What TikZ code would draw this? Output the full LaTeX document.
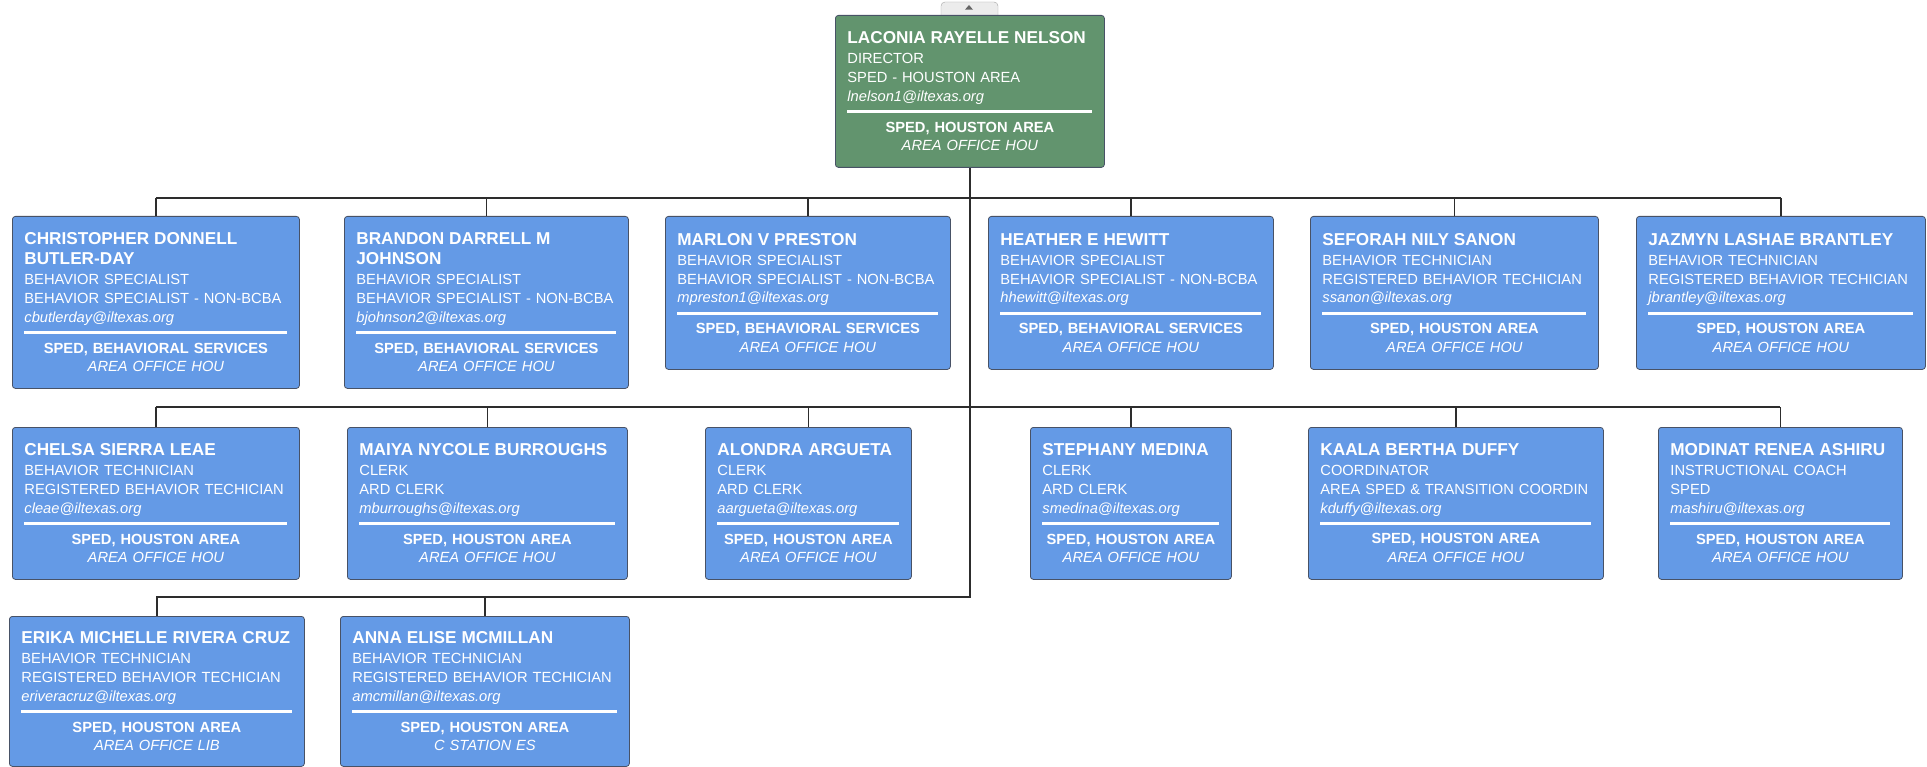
\documentclass[tikz,border=0pt]{standalone}
\usepackage{fontspec}
\setmainfont{Liberation Sans}
\usepackage{tikz}
\usetikzlibrary{positioning}
\usepackage{xcolor}
\definecolor{cardblue}{RGB}{100,154,230}
\definecolor{headgreen}{RGB}{98,148,110}
\definecolor{cardedge}{RGB}{72,82,102}
\definecolor{linkgray}{RGB}{45,45,45}
\definecolor{tabgray}{RGB}{236,236,236}

\newcommand{\namefont}{\fontsize{17.2}{20}\selectfont\bfseries}
\newcommand{\cardfont}{\fontsize{14.7}{18.7}\selectfont}
% name, title, position, mail, department, office
\newcommand{\cardtext}[6]{%
  {\namefont #1}\\[1.3pt]%
  \mbox{#2}\\\mbox{#3}\\\mbox{\itshape #4}\\[-6.7pt]%
  \rule{\linewidth}{3pt}\\%
  \makebox[\linewidth]{\bfseries #5}\\%
  \makebox[\linewidth]{\itshape #6}}

\begin{document}
\begin{tikzpicture}[x=1pt, y=-1pt,
  card/.style={draw=cardedge, fill=cardblue, line width=0.8pt, rounded corners=3pt,
    anchor=north west, align=left, inner xsep=12pt, inner ysep=0pt, text=white, font=\cardfont},
  headcard/.style={card, fill=headgreen},
  link/.style={draw=linkgray, line width=1.6pt}
]
\fill[white] (0,0) rectangle (1927,767);
\useasboundingbox (0,0) rectangle (1927,767);

% collapse tab
\draw[draw=black!35, fill=tabgray, rounded corners=4pt] (941,17) -- (941,2) -- (998,2) -- (998,17);
\fill[black!60] (965,9.7) -- (973,9.7) -- (969,5) -- cycle;

% head
\node[headcard, text width=245pt, minimum height=152pt] (top) at (835,15)
  {\cardtext{LACONIA RAYELLE NELSON}{DIRECTOR}{SPED - HOUSTON AREA}{lnelson1@iltexas.org}{SPED, HOUSTON AREA}{AREA OFFICE HOU}};

% first row
\node[card, text width=263pt, minimum height=172pt] (c1) at (12,216)
  {\cardtext{CHRISTOPHER DONNELL\\[1.3pt]BUTLER-DAY}{BEHAVIOR SPECIALIST}{BEHAVIOR SPECIALIST - NON-BCBA}{cbutlerday@iltexas.org}{SPED, BEHAVIORAL SERVICES}{AREA OFFICE HOU}};
\node[card, text width=260pt, minimum height=172pt] (c2) at (344,216)
  {\cardtext{BRANDON DARRELL M\\[1.3pt]JOHNSON}{BEHAVIOR SPECIALIST}{BEHAVIOR SPECIALIST - NON-BCBA}{bjohnson2@iltexas.org}{SPED, BEHAVIORAL SERVICES}{AREA OFFICE HOU}};
\node[card, text width=261pt, minimum height=153pt] (c3) at (665,216)
  {\cardtext{MARLON V PRESTON}{BEHAVIOR SPECIALIST}{BEHAVIOR SPECIALIST - NON-BCBA}{mpreston1@iltexas.org}{SPED, BEHAVIORAL SERVICES}{AREA OFFICE HOU}};
\node[card, text width=261pt, minimum height=153pt] (c4) at (988,216)
  {\cardtext{HEATHER E HEWITT}{BEHAVIOR SPECIALIST}{BEHAVIOR SPECIALIST - NON-BCBA}{hhewitt@iltexas.org}{SPED, BEHAVIORAL SERVICES}{AREA OFFICE HOU}};
\node[card, text width=264pt, minimum height=153pt] (c5) at (1310,216)
  {\cardtext{SEFORAH NILY SANON}{BEHAVIOR TECHNICIAN}{REGISTERED BEHAVIOR TECHICIAN}{ssanon@iltexas.org}{SPED, HOUSTON AREA}{AREA OFFICE HOU}};
\node[card, text width=265pt, minimum height=153pt] (c6) at (1636,216)
  {\cardtext{JAZMYN LASHAE BRANTLEY}{BEHAVIOR TECHNICIAN}{REGISTERED BEHAVIOR TECHICIAN}{jbrantley@iltexas.org}{SPED, HOUSTON AREA}{AREA OFFICE HOU}};

% second row
\node[card, text width=263pt, minimum height=152pt] (d1) at (12,427)
  {\cardtext{CHELSA SIERRA LEAE}{BEHAVIOR TECHNICIAN}{REGISTERED BEHAVIOR TECHICIAN}{cleae@iltexas.org}{SPED, HOUSTON AREA}{AREA OFFICE HOU}};
\node[card, text width=256pt, minimum height=152pt] (d2) at (347,427)
  {\cardtext{MAIYA NYCOLE BURROUGHS}{CLERK}{ARD CLERK}{mburroughs@iltexas.org}{SPED, HOUSTON AREA}{AREA OFFICE HOU}};
\node[card, text width=182pt, minimum height=152pt] (d3) at (705,427)
  {\cardtext{ALONDRA ARGUETA}{CLERK}{ARD CLERK}{aargueta@iltexas.org}{SPED, HOUSTON AREA}{AREA OFFICE HOU}};
\node[card, text width=177pt, minimum height=152pt] (d4) at (1030,427)
  {\cardtext{STEPHANY MEDINA}{CLERK}{ARD CLERK}{smedina@iltexas.org}{SPED, HOUSTON AREA}{AREA OFFICE HOU}};
\node[card, text width=271pt, minimum height=152pt] (d5) at (1308,427)
  {\cardtext{KAALA BERTHA DUFFY}{COORDINATOR}{AREA SPED \& TRANSITION COORDIN}{kduffy@iltexas.org}{SPED, HOUSTON AREA}{AREA OFFICE HOU}};
\node[card, text width=220pt, minimum height=152pt] (d6) at (1658,427)
  {\cardtext{MODINAT RENEA ASHIRU}{INSTRUCTIONAL COACH}{SPED}{mashiru@iltexas.org}{SPED, HOUSTON AREA}{AREA OFFICE HOU}};

% third row
\node[card, text width=271pt, minimum height=150pt] (e1) at (9,616)
  {\cardtext{ERIKA MICHELLE RIVERA CRUZ}{BEHAVIOR TECHNICIAN}{REGISTERED BEHAVIOR TECHICIAN}{eriveracruz@iltexas.org}{SPED, HOUSTON AREA}{AREA OFFICE LIB}};
\node[card, text width=265pt, minimum height=150pt] (e2) at (340,616)
  {\cardtext{ANNA ELISE MCMILLAN}{BEHAVIOR TECHNICIAN}{REGISTERED BEHAVIOR TECHICIAN}{amcmillan@iltexas.org}{SPED, HOUSTON AREA}{C STATION ES}};

% reporting lines
\coordinate (bus1) at (0,198);
\coordinate (bus2) at (0,407);
\coordinate (bus3) at (0,597);
\draw[link] (top.south) -- (top.south |- bus3) -- (e1.north |- bus3) -- (e1.north);
\draw[link] (e2.north) -- (e2.north |- bus3);
\draw[link] (c1.north |- bus1) -- (c6.north |- bus1);
\draw[link] (d1.north |- bus2) -- (d6.north |- bus2);
\foreach \i in {1,...,6}{
  \draw[link] (c\i.north) -- (c\i.north |- bus1);
  \draw[link] (d\i.north) -- (d\i.north |- bus2);
}
\end{tikzpicture}
\end{document}
